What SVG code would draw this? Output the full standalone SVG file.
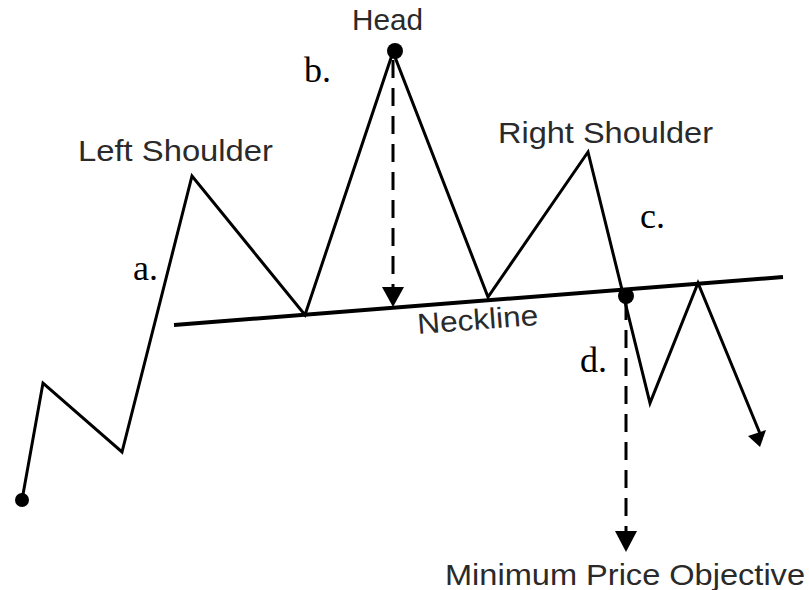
<svg xmlns="http://www.w3.org/2000/svg" width="809" height="590" viewBox="0 0 809 590">
<style>
.ln{fill:none;stroke:#000;stroke-width:3;stroke-linejoin:miter}
.nk{fill:none;stroke:#000;stroke-width:4}
.ds{fill:none;stroke:#000;stroke-width:3;stroke-dasharray:18 10}
.lb{font-family:"Liberation Sans",Arial,sans-serif;font-size:29px;fill:#2a2a2a}
.lt{font-family:"Liberation Serif","Times New Roman",serif;font-size:36px;fill:#000}
</style>
<rect width="809" height="590" fill="#fff"/>
<g id="connectors">
<line class="nk" x1="174" y1="325" x2="783" y2="277"/>
<polyline class="ln" points="22,500 43,383 122,452 192,176 305,315 393,52 488,297 588,152 650,403 698,283 761,436"/>
<path d="M748,436 L766,430 L760,447 z" fill="#000"/>
<line class="ds" x1="393" y1="60" x2="393" y2="290"/>
<path d="M382,287 L404,287 L393,307 z" fill="#000"/>
<line class="ds" x1="626" y1="302" x2="626" y2="534"/>
<path d="M615,531 L637,531 L626,552 z" fill="#000"/>
<circle cx="22" cy="500" r="7" fill="#000"/>
<circle cx="395" cy="51" r="8" fill="#000"/>
<circle cx="626" cy="296" r="8" fill="#000"/>
</g>
<g id="head"><text class="lb" x="352" y="30" textLength="71" lengthAdjust="spacingAndGlyphs">Head</text></g>
<g id="left-shoulder"><text class="lb" x="78" y="161" textLength="195" lengthAdjust="spacingAndGlyphs">Left Shoulder</text></g>
<g id="right-shoulder"><text class="lb" x="498" y="143" textLength="215" lengthAdjust="spacingAndGlyphs">Right Shoulder</text></g>
<g id="neckline"><text class="lb" x="418" y="334" textLength="121" lengthAdjust="spacingAndGlyphs" transform="rotate(-4.3 418 334)">Neckline</text></g>
<g id="objective"><text class="lb" x="445" y="585" textLength="360" lengthAdjust="spacingAndGlyphs">Minimum Price Objective</text></g>
<g id="a"><text class="lt" x="133" y="280">a.</text></g>
<g id="b"><text class="lt" x="304" y="82">b.</text></g>
<g id="c"><text class="lt" x="640" y="228">c.</text></g>
<g id="d"><text class="lt" x="580" y="372">d.</text></g>
</svg>
